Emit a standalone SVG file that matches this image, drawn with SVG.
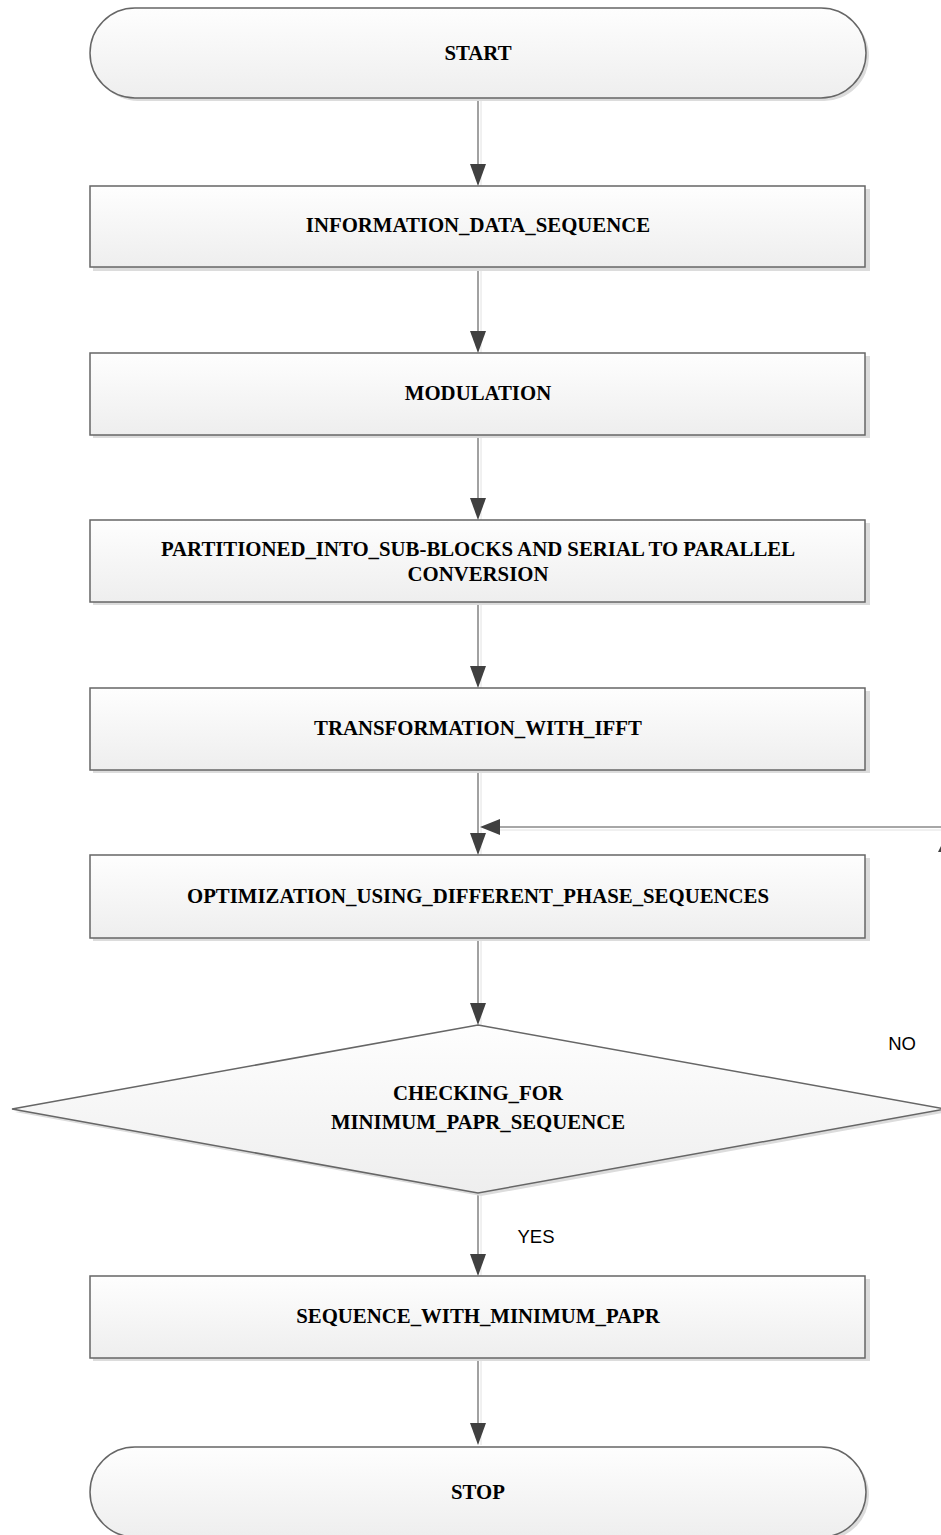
<svg xmlns="http://www.w3.org/2000/svg" width="941" height="1535" viewBox="0 0 941 1535">
  <defs>
    <linearGradient id="fillGrad" x1="0" y1="0" x2="0" y2="1">
      <stop offset="0" stop-color="#fefefe"/>
      <stop offset="1" stop-color="#eeeeee"/>
    </linearGradient>
    <style>
      .shadow { fill: #dcdcdc; }
      .node { fill: url(#fillGrad); stroke: #666666; stroke-width: 1.5; }
      .label { font-family: "Liberation Serif", "Times New Roman", serif; font-weight: bold; font-size: 20.8px; fill: #000000; text-anchor: middle; }
      .note { font-family: "Liberation Sans", Arial, sans-serif; font-size: 18.5px; fill: #000000; text-anchor: middle; }
      .wire { stroke: #8a8a8a; stroke-width: 1.6; fill: none; }
      .wire-shadow { stroke: #e2e2e2; stroke-width: 1; fill: none; }
      .head { fill: #404040; }
    </style>
  </defs>

  <rect width="941" height="1535" fill="#ffffff"/>

  <!-- connectors -->
  <g id="connectors">
    <g class="wire-shadow">
      <line x1="481" y1="100" x2="481" y2="186"/>
      <line x1="481" y1="269" x2="481" y2="353"/>
      <line x1="481" y1="437" x2="481" y2="520"/>
      <line x1="481" y1="604" x2="481" y2="688"/>
      <line x1="481" y1="772" x2="481" y2="855"/>
      <line x1="481" y1="940" x2="481" y2="1025"/>
      <line x1="481" y1="1195" x2="481" y2="1276"/>
      <line x1="481" y1="1360" x2="481" y2="1445"/>
      <line x1="500" y1="830" x2="941" y2="830"/>
    </g>
    <g class="wire">
      <line x1="478" y1="98" x2="478" y2="164"/>
      <line x1="478" y1="267" x2="478" y2="331"/>
      <line x1="478" y1="435" x2="478" y2="498"/>
      <line x1="478" y1="602" x2="478" y2="666"/>
      <line x1="478" y1="770" x2="478" y2="833"/>
      <line x1="478" y1="938" x2="478" y2="1003"/>
      <line x1="478" y1="1193" x2="478" y2="1254"/>
      <line x1="478" y1="1358" x2="478" y2="1423"/>
      <line x1="500" y1="827" x2="941" y2="827"/>
    </g>
    <g class="head">
      <path d="M470,164 L486,164 L478,186 Z"/>
      <path d="M470,331 L486,331 L478,353 Z"/>
      <path d="M470,498 L486,498 L478,520 Z"/>
      <path d="M470,666 L486,666 L478,688 Z"/>
      <path d="M470,833 L486,833 L478,855 Z"/>
      <path d="M470,1003 L486,1003 L478,1025 Z"/>
      <path d="M470,1254 L486,1254 L478,1276 Z"/>
      <path d="M470,1423 L486,1423 L478,1445 Z"/>
      <!-- loop-back head entering the main line -->
      <path d="M500,819 L500,835 L480,827 Z"/>
      <!-- head of the return path at the right edge -->
      <path d="M946,836 L938,852 L954,852 Z"/>
    </g>
  </g>

  <!-- START terminal -->
  <g id="start">
    <rect class="shadow" x="93" y="11" width="776" height="90" rx="45" ry="45"/>
    <rect class="node" x="90" y="8" width="776" height="90" rx="45" ry="45"/>
    <text class="label" x="478" y="60">START</text>
  </g>

  <g id="information-data-sequence">
    <rect class="shadow" x="93" y="189" width="777" height="82"/>
    <rect class="node" x="90" y="186" width="775" height="81"/>
    <text class="label" x="478" y="232">INFORMATION_DATA_SEQUENCE</text>
  </g>

  <g id="modulation">
    <rect class="shadow" x="93" y="356" width="777" height="82"/>
    <rect class="node" x="90" y="353" width="775" height="82"/>
    <text class="label" x="478" y="400">MODULATION</text>
  </g>

  <g id="partitioning">
    <rect class="shadow" x="93" y="523" width="777" height="82"/>
    <rect class="node" x="90" y="520" width="775" height="82"/>
    <text class="label" x="478" y="556">PARTITIONED_INTO_SUB-BLOCKS AND SERIAL TO PARALLEL</text>
    <text class="label" x="478" y="581">CONVERSION</text>
  </g>

  <g id="ifft">
    <rect class="shadow" x="93" y="691" width="777" height="82"/>
    <rect class="node" x="90" y="688" width="775" height="82"/>
    <text class="label" x="478" y="735">TRANSFORMATION_WITH_IFFT</text>
  </g>

  <g id="optimization">
    <rect class="shadow" x="93" y="858" width="777" height="83"/>
    <rect class="node" x="90" y="855" width="775" height="83"/>
    <text class="label" x="478" y="903">OPTIMIZATION_USING_DIFFERENT_PHASE_SEQUENCES</text>
  </g>

  <!-- decision -->
  <g id="papr-check">
    <path class="shadow" d="M481,1028 L948,1112 L481,1196 L15,1112 Z"/>
    <path class="node" d="M478,1025 L945,1109 L478,1193 L12,1109 Z"/>
    <text class="label" x="478" y="1100">CHECKING_FOR</text>
    <text class="label" x="478" y="1129">MINIMUM_PAPR_SEQUENCE</text>
  </g>

  <text class="note" x="902" y="1050">NO</text>
  <text class="note" x="536" y="1243">YES</text>

  <g id="sequence-min-papr">
    <rect class="shadow" x="93" y="1279" width="777" height="82"/>
    <rect class="node" x="90" y="1276" width="775" height="82"/>
    <text class="label" x="478" y="1323">SEQUENCE_WITH_MINIMUM_PAPR</text>
  </g>

  <!-- STOP terminal -->
  <g id="stop">
    <rect class="shadow" x="93" y="1450" width="776" height="90" rx="45" ry="45"/>
    <rect class="node" x="90" y="1447" width="776" height="90" rx="45" ry="45"/>
    <text class="label" x="478" y="1499">STOP</text>
  </g>
</svg>
